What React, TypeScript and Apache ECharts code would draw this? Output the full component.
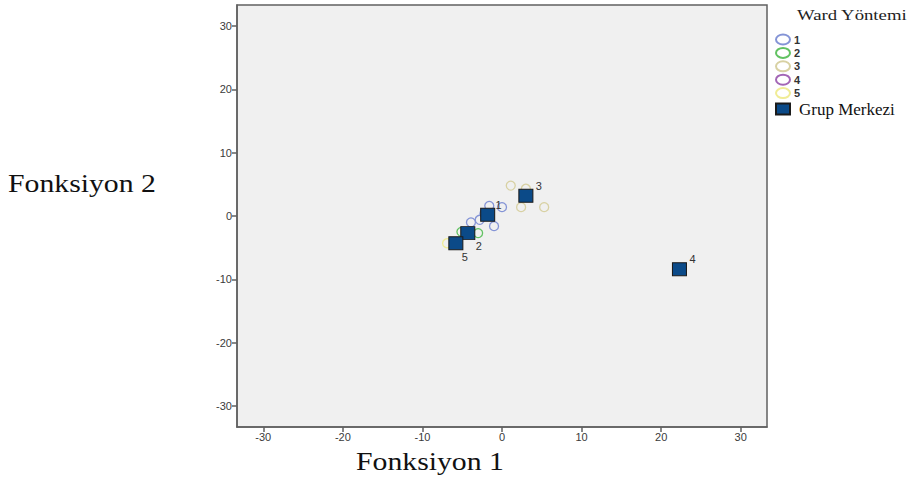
import React, { useEffect, useRef } from "react";
import * as echarts from "echarts";

// Axis ticks
const xTicks = [-30, -20, -10, 0, 10, 20, 30];
const yTicks = [-30, -20, -10, 0, 10, 20, 30];
const axisMin = -33.3;
const axisMax = 33.3;

// Cluster members (Fonksiyon 1, Fonksiyon 2)
const cluster1 = [
  [-1.6, 1.6],
  [0.0, 1.4],
  [-3.9, -1.0],
  [-2.8, -0.6],
  [-1.0, -1.6],
  [-2.2, 0.4],
];
const cluster2 = [
  [-5.1, -2.5],
  [-3.0, -2.7],
];
const cluster3 = [
  [1.1, 4.8],
  [3.0, 4.3],
  [2.4, 1.4],
  [5.3, 1.4],
];
const cluster4 = [[22.3, -8.4]];
const cluster5 = [[-6.9, -4.3]];

// Group centroids
const centroidNames = ["1", "2", "3", "4", "5"];
const centroidX = [-1.8, -4.3, 3.0, 22.3, -5.8];
const centroidY = [0.2, -2.7, 3.2, -8.4, -4.3];

const clusterNames = ["1", "2", "3", "4", "5"];
const clusterData = [cluster1, cluster2, cluster3, cluster4, cluster5];
const clusterColors = ["#8494d6", "#62c262", "#d8d1a3", "#a366b6", "#f0ec96"];
const labelOffsets = [
  [11, -10],
  [11, 13],
  [13, -10],
  [13, -10],
  [9, 14],
];

const ellipseIcon = "path://M0,5a7,5 0 1,0 14,0a7,5 0 1,0 -14,0z";
const serif = "Liberation Serif, Times New Roman, serif";
const sans = "Liberation Sans, Arial, sans-serif";

export default function App() {
  const ref = useRef<HTMLDivElement>(null);
  useEffect(() => {
    if (!ref.current) return;
    const chart = echarts.init(ref.current, undefined, { renderer: "svg" });
    const circleSeries = clusterNames.map((name, i) => ({
      name,
      type: "scatter",
      symbol: "circle",
      symbolSize: 9,
      data: clusterData[i],
      itemStyle: {
        color: "rgba(0,0,0,0)",
        borderColor: clusterColors[i],
        borderWidth: 1.3,
        opacity: 1,
      },
      z: 2,
    }));
    const centroidSeries = {
      name: "Grup Merkezi",
      type: "scatter",
      symbol: "rect",
      symbolSize: [14, 13],
      itemStyle: { color: "#0b4a88", borderColor: "#1b1b1b", borderWidth: 1, opacity: 1 },
      z: 5,
      data: centroidNames.map((n, i) => ({
        name: n,
        value: [centroidX[i], centroidY[i]],
        label: {
          show: true,
          position: "inside",
          offset: labelOffsets[i],
          formatter: n,
          color: "#333",
          fontSize: 11,
          fontFamily: sans,
        },
      })),
    };
    const legendIcons = [...clusterNames.map(() => ellipseIcon), "rect"];
    const axisCommon = (ticks: number[], margin: number) => ({
      type: "value",
      min: axisMin,
      max: axisMax,
      splitLine: { show: false },
      axisLine: { show: true, onZero: false, lineStyle: { color: "#606060", width: 1.5 } },
      axisTick: {
        show: true,
        inside: false,
        length: 5,
        customValues: ticks,
        lineStyle: { color: "#606060", width: 1.5 },
      },
      axisLabel: {
        customValues: ticks,
        margin,
        color: "#3a3a3a",
        fontSize: 11,
        fontFamily: sans,
      },
    });
    chart.setOption({
      animation: false,
      backgroundColor: "#ffffff",
      grid: {
        left: 237,
        top: 5,
        right: 148,
        bottom: 54,
        show: true,
        backgroundColor: "#f0f0f0",
        borderColor: "#606060",
        borderWidth: 1.5,
      },
      xAxis: axisCommon(xTicks, 4),
      yAxis: axisCommon(yTicks, 5),
      legend: {
        orient: "vertical",
        left: 775,
        top: 33.5,
        itemWidth: 14,
        itemHeight: 11,
        itemGap: 1.4,
        padding: 0,
        data: [...clusterNames, "Grup Merkezi"].map((n, i) => ({
          name: n,
          icon: legendIcons[i],
        })),
        formatter: (name: string) =>
          name === "Grup Merkezi" ? "{s|" + name + "}" : "{a|" + name + "}",
        textStyle: {
          padding: [0, 0, 0, 0],
          rich: {
            a: {
              fontSize: 11,
              lineHeight: 11,
              fontWeight: "bold",
              color: "#333",
              fontFamily: sans,
              padding: [0, 0, 0, -1],
            },
            s: {
              fontSize: 17,
              lineHeight: 14,
              color: "#111",
              fontFamily: serif,
              padding: [0, 0, 0, 4],
            },
          },
        },
      },
      graphic: [
        {
          type: "text",
          x: 797,
          y: 8,
          scaleX: 1.25,
          style: {
            text: "Ward Yöntemi",
            fontSize: 15,
            fill: "#222",
            fontFamily: serif,
          },
        },
        {
          type: "text",
          x: 8,
          y: 171,
          scaleX: 1.19,
          style: {
            text: "Fonksiyon 2",
            fontSize: 25,
            fill: "#111",
            fontFamily: serif,
          },
        },
        {
          type: "text",
          x: 356,
          y: 449,
          scaleX: 1.19,
          style: {
            text: "Fonksiyon 1",
            fontSize: 25,
            fill: "#111",
            fontFamily: serif,
          },
        },
      ],
      series: [...circleSeries, centroidSeries],
    });
    return () => chart.dispose();
  }, []);
  return (
    <div
      ref={ref}
      style={{ position: "fixed", left: 0, top: 0, width: 915, height: 481 }}
    />
  );
}
